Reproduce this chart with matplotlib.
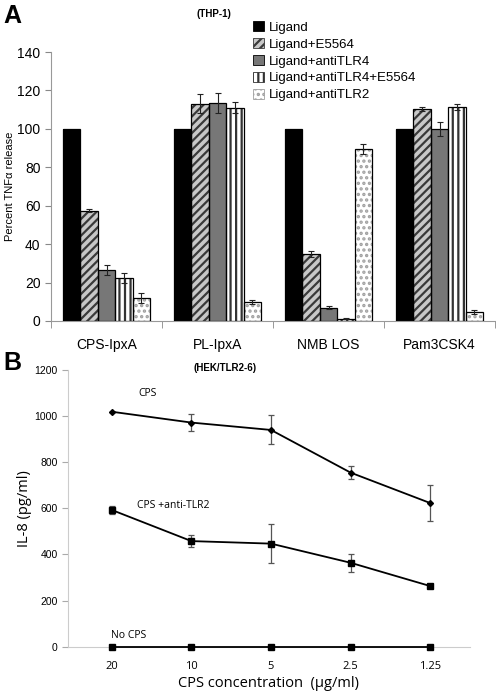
import matplotlib
matplotlib.use("Agg")
import matplotlib.pyplot as plt
import numpy as np
from matplotlib.patches import Patch

plt.rcParams['font.family'] = ['Liberation Sans', 'DejaVu Sans']
plt.rcParams['hatch.linewidth'] = 1.6

# ---------- Panel A data ----------
ligands = ["CPS-IpxA", "PL-IpxA", "NMB LOS", "Pam3CSK4"]
series_a = ["Ligand", "Ligand+E5564", "Ligand+antiTLR4", "Ligand+antiTLR4+E5564", "Ligand+antiTLR2"]
vals_ligand = [100, 100, 100, 100]
vals_e5564 = [57.5, 113, 35, 110.5]
vals_antitlr4 = [26.5, 113.5, 7, 100]
vals_antitlr4_e5564 = [22.5, 111, 1.2, 111.5]
vals_antitlr2 = [12, 10, 89.5, 4.5]
err_ligand = [0, 0, 0, 0]
err_e5564 = [1, 5, 1.5, 1]
err_antitlr4 = [2.5, 5, 0.7, 3.8]
err_antitlr4_e5564 = [2.5, 3, 0.3, 1.5]
err_antitlr2 = [2.5, 1, 2.6, 1]

# ---------- Panel B data ----------
conc_labels = ["20", "10", "5", "2.5", "1.25"]
il8_cps = [1019, 972, 940, 755, 623]
il8_cps_err = [0, 38, 63, 29, 77]
il8_anti = [593, 458, 447, 364, 263]
il8_anti_err = [17, 25, 83, 39, 0]
il8_nocps = [0, 0, 0, 0, 0]

fig = plt.figure(figsize=(4.96, 6.92), dpi=100)

# ================= Panel A =================
axA = fig.add_axes([51/496, 1-321/692, 444/496, 269/692])
vals = [vals_ligand, vals_e5564, vals_antitlr4, vals_antitlr4_e5564, vals_antitlr2]
errs = [err_ligand, err_e5564, err_antitlr4, err_antitlr4_e5564, err_antitlr2]
styles = [
    dict(face='black', hatch=None, hc='black'),
    dict(face='#c8c8c8', hatch='////', hc='#3a3a3a'),
    dict(face='#777777', hatch=None, hc='#777777'),
    dict(face='white', hatch='|||', hc='#333333'),
    dict(face='white', hatch='...', hc='#a0a0a0'),
]
x = np.arange(len(ligands))
w = 0.157
for i, (v, e, st) in enumerate(zip(vals, errs, styles)):
    pos = x + (i - 2) * w
    axA.bar(pos, v, width=w, color=st['face'], hatch=st['hatch'],
            edgecolor=st['hc'], linewidth=0, zorder=2)
    axA.bar(pos, v, width=w, fill=False, edgecolor='black', linewidth=0.9, zorder=3)
    ee = np.array(e, dtype=float)
    mask = ee > 0
    axA.errorbar(pos[mask], np.array(v)[mask], yerr=ee[mask], fmt='none',
                 ecolor='#222222', elinewidth=0.8, capsize=2.5, capthick=0.8, zorder=4)

axA.set_xlim(-0.5, 3.5)
axA.set_ylim(0, 140)
axA.set_yticks(np.arange(0, 141, 20))
axA.set_xticks(x)
axA.set_xticklabels(ligands, fontsize=10)
axA.set_xticks(np.arange(-0.5, 3.6, 1.0), minor=True)
axA.tick_params(axis='x', which='major', length=0, pad=12)
axA.tick_params(axis='x', which='minor', length=5, color='#888888', direction='out')
axA.tick_params(axis='y', labelsize=10, length=4, color='#888888')
for s in ['top', 'right']:
    axA.spines[s].set_visible(False)
for s in ['left', 'bottom']:
    axA.spines[s].set_color('#999999')
axA.set_ylabel("Percent TNF\u03b1 release", fontsize=8)
axA.yaxis.set_label_coords(-0.082, 0.5)

handles = [Patch(facecolor=st['face'], hatch=st['hatch'], edgecolor=st['hc'] if st['hatch'] else 'black',
                 linewidth=0.6) for st in styles]
leg = fig.legend(handles, series_a, loc='upper left', bbox_to_anchor=(248/496, 1-16/692),
                 frameon=False, fontsize=9.5, handlelength=0.8, handleheight=0.8,
                 handletextpad=0.35, labelspacing=0.32, borderaxespad=0)

fig.text(3/496, 1-23/692, "A", fontsize=18, fontweight='bold', ha='left', va='baseline')
fig.text(214/496, 1-14/692, "(THP-1)", fontsize=7, fontweight='bold', ha='center', va='center')

# ================= Panel B =================
axB = fig.add_axes([68/496, 1-646.7/692, 402/496, 276.7/692])
xb = np.arange(len(conc_labels))
axB.errorbar(xb, il8_cps, yerr=il8_cps_err, color='black', lw=1.3, marker='D', ms=3,
             ecolor='#555555', elinewidth=0.9, capsize=2.5, capthick=0.9, zorder=3)
axB.errorbar(xb, il8_anti, yerr=il8_anti_err, color='black', lw=1.3, marker='s', ms=4.5,
             ecolor='#555555', elinewidth=0.9, capsize=2.5, capthick=0.9, zorder=3)
axB.plot(xb, il8_nocps, color='black', lw=1.3, marker='s', ms=4.5, zorder=4, clip_on=False)
axB.set_xlim(-0.55, 4.5)
axB.set_ylim(0, 1200)
axB.set_yticks(np.arange(0, 1201, 200))
axB.set_xticks(xb)
axB.set_xticklabels(conc_labels, fontsize=8, family=['Open Sans', 'DejaVu Sans'])
axB.tick_params(axis='x', length=0, pad=10)
axB.tick_params(axis='y', labelsize=7.5, length=4, color='#aaaaaa')
for s in ['top', 'right']:
    axB.spines[s].set_visible(False)
for s in ['left', 'bottom']:
    axB.spines[s].set_color('#cccccc')
axB.set_ylabel("IL-8 (pg/ml)", fontsize=10.5, family=['Open Sans', 'DejaVu Sans'])
axB.yaxis.set_label_coords(-0.09, 0.5)
axB.set_xlabel("CPS concentration  (\u03bcg/ml)", fontsize=10.5, family=['Open Sans', 'DejaVu Sans'],
               labelpad=3)

fig.text(138/496, 1-394/692, "CPS", fontsize=7.5, family=['Open Sans', 'DejaVu Sans'], va='center')
fig.text(137/496, 1-505/692, "CPS +anti-TLR2", fontsize=7.5, family=['Open Sans', 'DejaVu Sans'], va='center')
fig.text(111/496, 1-635/692, "No CPS", fontsize=7.5, family=['Open Sans', 'DejaVu Sans'], va='center')
fig.text(3/496, 1-370/692, "B", fontsize=18, fontweight='bold', ha='left', va='baseline')
fig.text(225/496, 1-368/692, "(HEK/TLR2-6)", fontsize=7, fontweight='bold', ha='center', va='center')

fig.savefig("out.png", dpi=100)
